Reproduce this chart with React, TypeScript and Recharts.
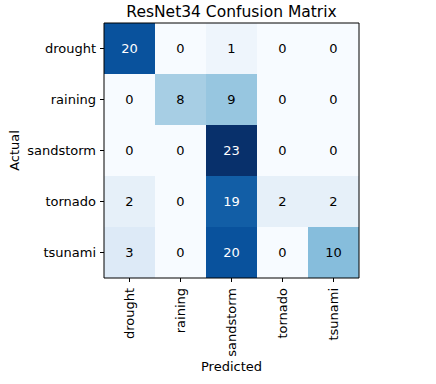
import React from 'react';
import { ScatterChart, Scatter, XAxis, YAxis, ReferenceArea } from 'recharts';

const actualLabels = ['drought', 'raining', 'sandstorm', 'tornado', 'tsunami'];
const predictedLabels = ['drought', 'raining', 'sandstorm', 'tornado', 'tsunami'];
const rowDrought = [20, 0, 1, 0, 0];
const rowRaining = [0, 8, 9, 0, 0];
const rowSandstorm = [0, 0, 23, 0, 0];
const rowTornado = [2, 0, 19, 2, 2];
const rowTsunami = [3, 0, 20, 0, 10];
const matrix = [rowDrought, rowRaining, rowSandstorm, rowTornado, rowTsunami];
const tickIdx = [0, 1, 2, 3, 4];

const BLUES = ['#f7fbff', '#deebf7', '#c6dbef', '#9ecae1', '#6baed6', '#4292c6', '#2171b5', '#08519c', '#08306b'];

function hexToRgb(h: string) {
  return [1, 3, 5].map((i) => parseInt(h.slice(i, i + 2), 16));
}
function blues(t: number) {
  const p = Math.max(0, Math.min(1, t)) * (BLUES.length - 1);
  const i = Math.min(Math.floor(p), BLUES.length - 2);
  const f = p - i;
  const a = hexToRgb(BLUES[i]);
  const b = hexToRgb(BLUES[i + 1]);
  const c = a.map((v, k) => Math.round(v + (b[k] - v) * f));
  return `rgb(${c[0]},${c[1]},${c[2]})`;
}

const maxVal = Math.max(...matrix.flat());
const cells = matrix.flatMap((row, i) => row.map((v, j) => ({ x: j, y: i, v })));

const FONT = 'DejaVu Sans';
const FS = 13;

const XTick = (props: any) => {
  const { x, y, payload } = props;
  return (
    <g transform={`translate(${x},${y})`}>
      <text transform="rotate(-90)" textAnchor="end" dy="0.35em" fill="#000" fontSize={FS} fontFamily={FONT}>
        {predictedLabels[payload.value]}
      </text>
    </g>
  );
};

const CellText = (props: any) => {
  const { cx, cy, payload } = props;
  return (
    <text x={cx} y={cy} textAnchor="middle" dominantBaseline="central" fontSize={FS} fontFamily={FONT}
      fill={payload.v > maxVal / 2 ? '#fff' : '#000'}>
      {payload.v}
    </text>
  );
};

export default function App() {
  return (
    <div style={{ position: 'absolute', left: 0, top: 0, width: 436, height: 384, background: '#fff' }}>
      <ScatterChart width={436} height={384} margin={{ top: 23, right: 77, bottom: 0, left: 0 }} style={{ fontFamily: FONT }}>
        <XAxis type="number" dataKey="x" domain={[-0.5, 4.5]} ticks={tickIdx} interval={0} allowDataOverflow
          height={106} axisLine={false} tickSize={4} tickLine={{ stroke: '#000' }} tickMargin={6} tick={<XTick />}
          label={{
            content: (p: any) => (
              <text x={p.viewBox.x + p.viewBox.width / 2} y={371} textAnchor="middle" fontSize={FS} fontFamily={FONT} fill="#000">Predicted</text>
            ),
          }} />
        <YAxis type="number" dataKey="y" domain={[-0.5, 4.5]} reversed ticks={tickIdx} interval={0} allowDataOverflow
          width={104} axisLine={false} tickSize={4} tickLine={{ stroke: '#000' }} tickMargin={4}
          tickFormatter={(v: number) => actualLabels[v]} tick={{ fill: '#000', fontSize: FS, fontFamily: FONT }}
          label={{
            content: (p: any) => (
              <text transform={`translate(18.5,${p.viewBox.y + p.viewBox.height / 2}) rotate(-90)`} textAnchor="middle" fontSize={FS} fontFamily={FONT} fill="#000">Actual</text>
            ),
          }} />
        {cells.map((c) => (
          <ReferenceArea key={`${c.x}-${c.y}`} x1={c.x - 0.5} x2={c.x + 0.5} y1={c.y - 0.5} y2={c.y + 0.5}
            fill={blues(c.v / maxVal)} fillOpacity={1} stroke="none" ifOverflow="visible" />
        ))}
        <ReferenceArea x1={-0.5} x2={4.5} y1={-0.5} y2={4.5} fill="none" stroke="#000" strokeWidth={1} ifOverflow="visible" />
        <Scatter data={cells} shape={<CellText />} isAnimationActive={false} />
      </ScatterChart>
      <svg width={436} height={30} style={{ position: 'absolute', left: 0, top: 0 }}>
        <text x={231.5} y={17} textAnchor="middle" fontSize={15.5} fontFamily={FONT} fill="#000">ResNet34 Confusion Matrix</text>
      </svg>
    </div>
  );
}
